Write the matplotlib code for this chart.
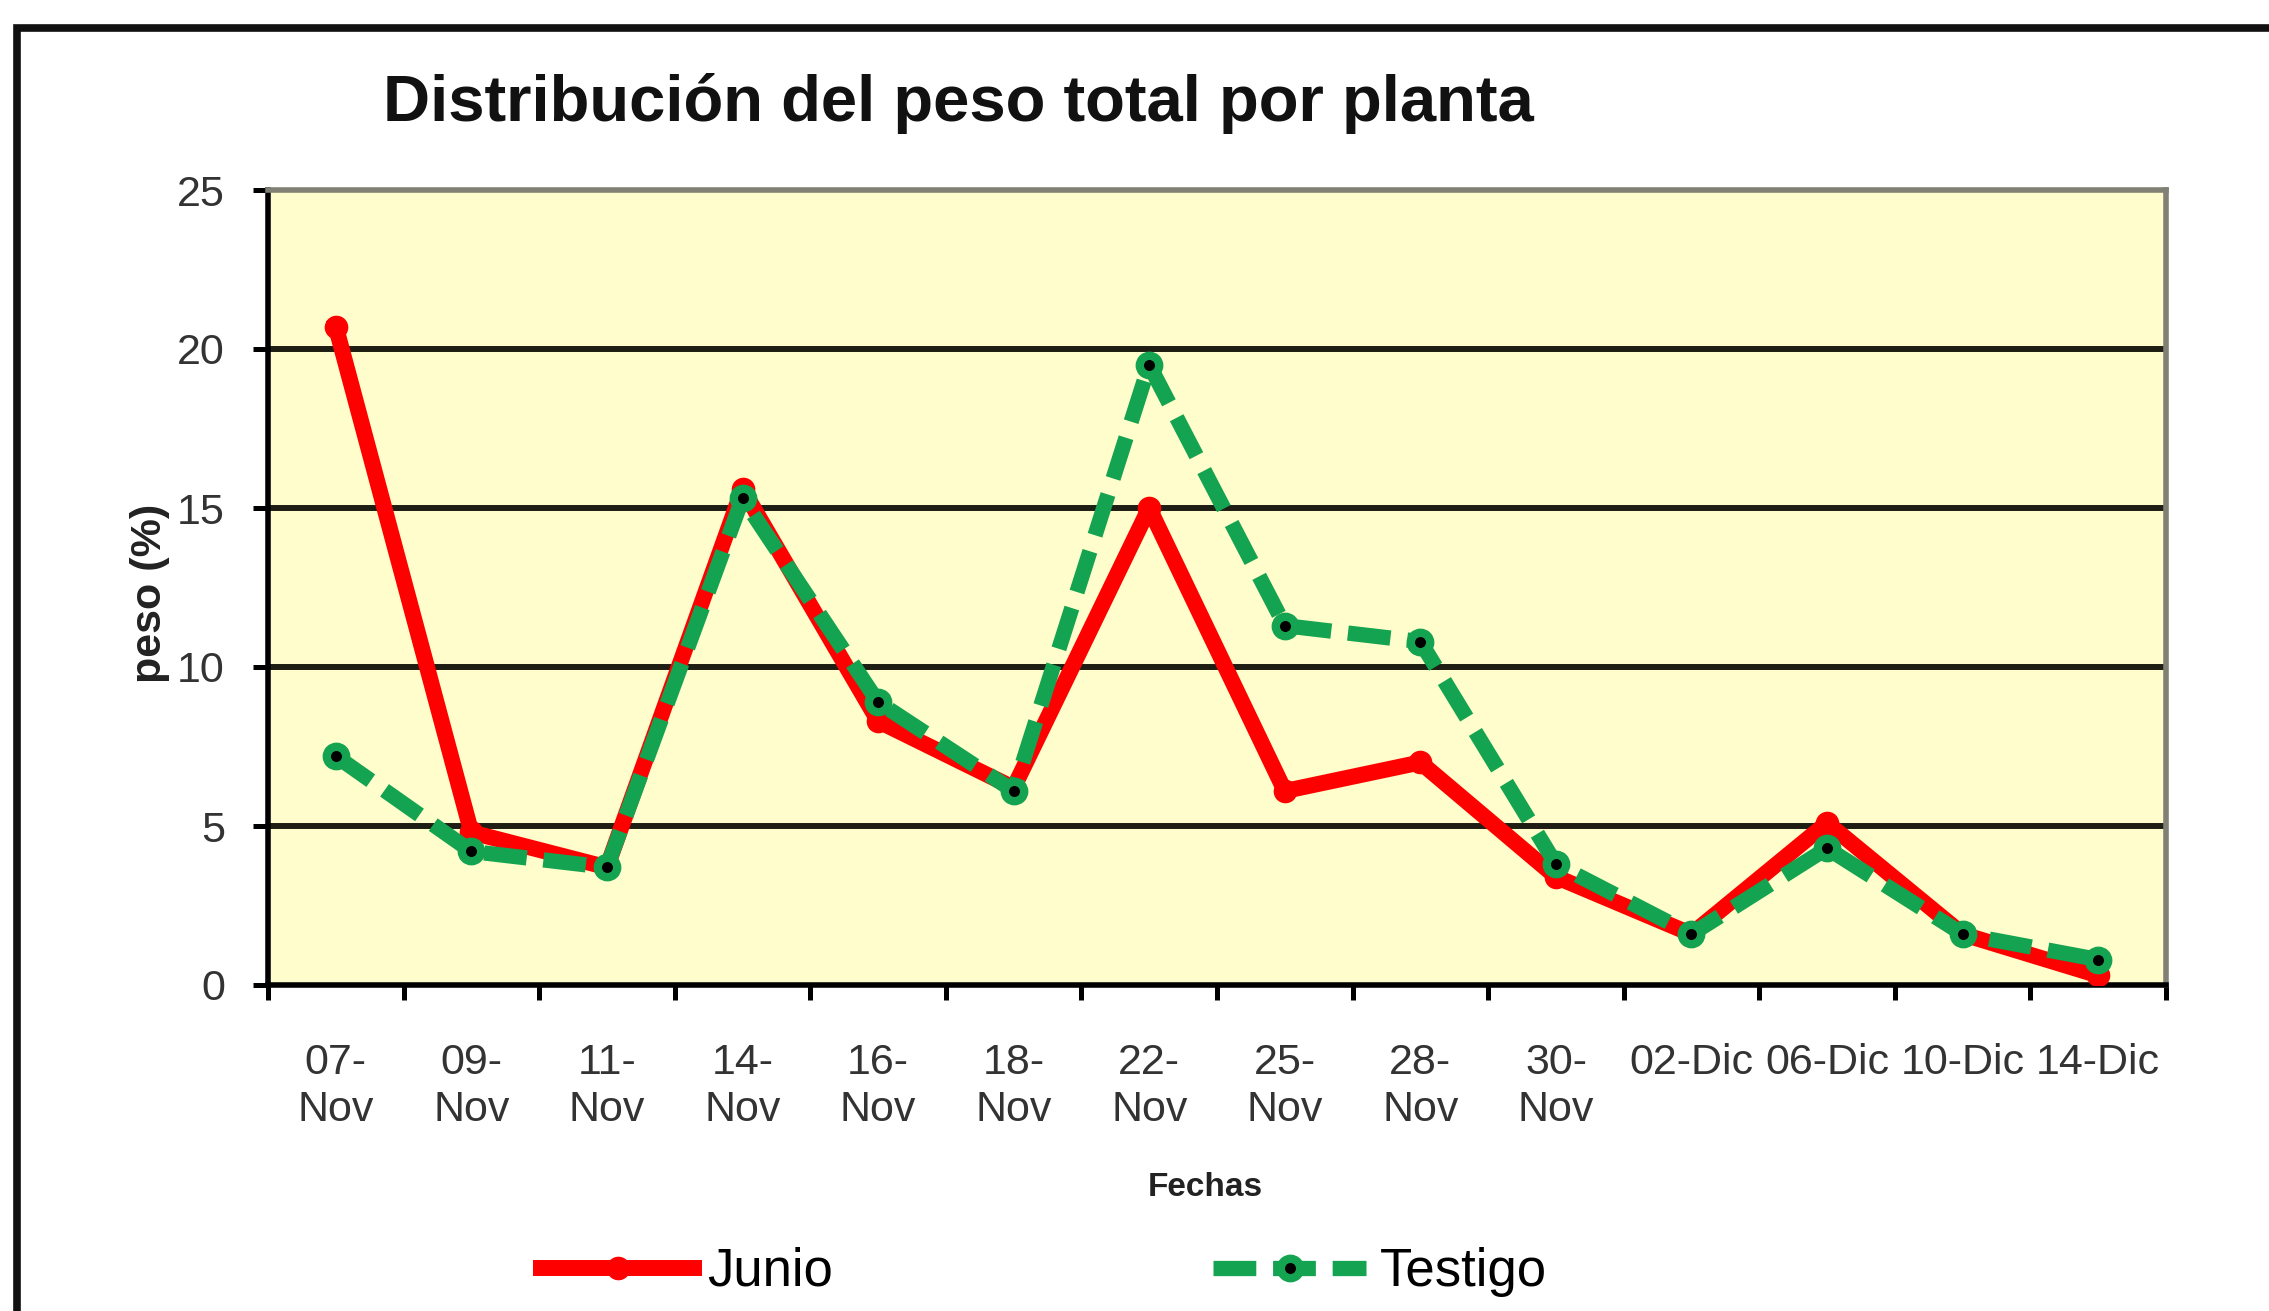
"""Distribución del peso total por planta: Junio frente a Testigo."""

import matplotlib
matplotlib.use("Agg")
import matplotlib.pyplot as plt
from matplotlib.patches import Rectangle
import numpy as np


FECHAS = ["07-\nNov", "09-\nNov", "11-\nNov", "14-\nNov", "16-\nNov", "18-\nNov", "22-\nNov",
          "25-\nNov", "28-\nNov", "30-\nNov", "02-Dic", "06-Dic", "10-Dic", "14-Dic"]
JUNIO = [20.7, 4.8, 3.7, 15.6, 8.3, 6.2, 15.0, 6.1, 7.0, 3.4, 1.6, 5.1, 1.6, 0.3]
TESTIGO = [7.2, 4.2, 3.7, 15.3, 8.9, 6.1, 19.5, 11.3, 10.8, 3.8, 1.6, 4.3, 1.6, 0.8]
Y_TICKS = [0, 5, 10, 15, 20, 25]

RED = "#FF0000"
GREEN = "#14A350"
BG = "#FFFDCB"
W, H = 2269, 1311

plt.rcParams["font.family"] = ["Liberation Sans", "DejaVu Sans"]

fig = plt.figure(figsize=(W / 100, H / 100), dpi=100)
fig.patch.set_facecolor("white")

# marco exterior del gráfico (cortado por la derecha y abajo)
fig.add_artist(Rectangle((17 / W, -0.1), 1.2, (H - 28) / H + 0.1, transform=fig.transFigure,
                         fill=False, edgecolor="#111111", linewidth=5.5))

ax = fig.add_axes([268 / W, (H - 985) / H, (2166 - 268) / W, (985 - 190) / H])
ax.set_facecolor(BG)

x = np.arange(len(FECHAS)) + 0.5

for y in Y_TICKS[1:-1]:
    ax.axhline(y, color="#1E1E14", linewidth=4.3, zorder=1)

ax.plot(x, JUNIO, color=RED, linewidth=11.5, marker="o", markersize=16,
        markerfacecolor=RED, markeredgecolor=RED, solid_joinstyle="round",
        label="Junio", zorder=3)
ax.plot(x, TESTIGO, color=GREEN, linewidth=11, dashes=(2.8, 1.1), marker="o", markersize=14,
        markerfacecolor="black", markeredgecolor=GREEN, markeredgewidth=6,
        label="Testigo", zorder=4)

ax.set_xlim(0, len(FECHAS))
ax.set_ylim(0, 25)
ax.set_yticks(Y_TICKS)
ax.set_xticks(np.arange(len(FECHAS) + 1))
ax.set_xticklabels([])
ax.set_xticks(x, minor=True)
ax.set_xticklabels(FECHAS, minor=True, linespacing=1.2)

ax.tick_params(axis="y", length=11, width=3.6, color="black", pad=20,
               labelsize=31, labelcolor="#333333")
ax.tick_params(axis="x", which="major", length=11, width=3.6, color="black")
ax.tick_params(axis="x", which="minor", length=0, pad=42,
               labelsize=31, labelcolor="#333333")

for side in ("left", "bottom"):
    ax.spines[side].set_color("black")
    ax.spines[side].set_linewidth(4)
for side in ("top", "right"):
    ax.spines[side].set_color("#808075")
    ax.spines[side].set_linewidth(4)

fig.text(383 / W, 1 - 104 / H, "Distribución del peso total por planta",
         ha="left", va="center", fontsize=47, fontweight="bold", color="#111111")
fig.text(1205 / W, 1 - 1187 / H, "Fechas", ha="center", va="center",
         fontsize=24, fontweight="bold", color="#222222")
fig.text(150 / W, 1 - 593 / H, "peso (%)", ha="center", va="center", rotation=90,
         fontsize=31, fontweight="bold", color="#222222")

fig.legend(loc="center", bbox_to_anchor=(1044 / W, 1 - 1272 / H), ncol=2,
           frameon=False, fontsize=38, handlelength=2.9, handletextpad=0.25,
           columnspacing=7.2, borderpad=0)

fig.savefig("out.png", dpi=100)
